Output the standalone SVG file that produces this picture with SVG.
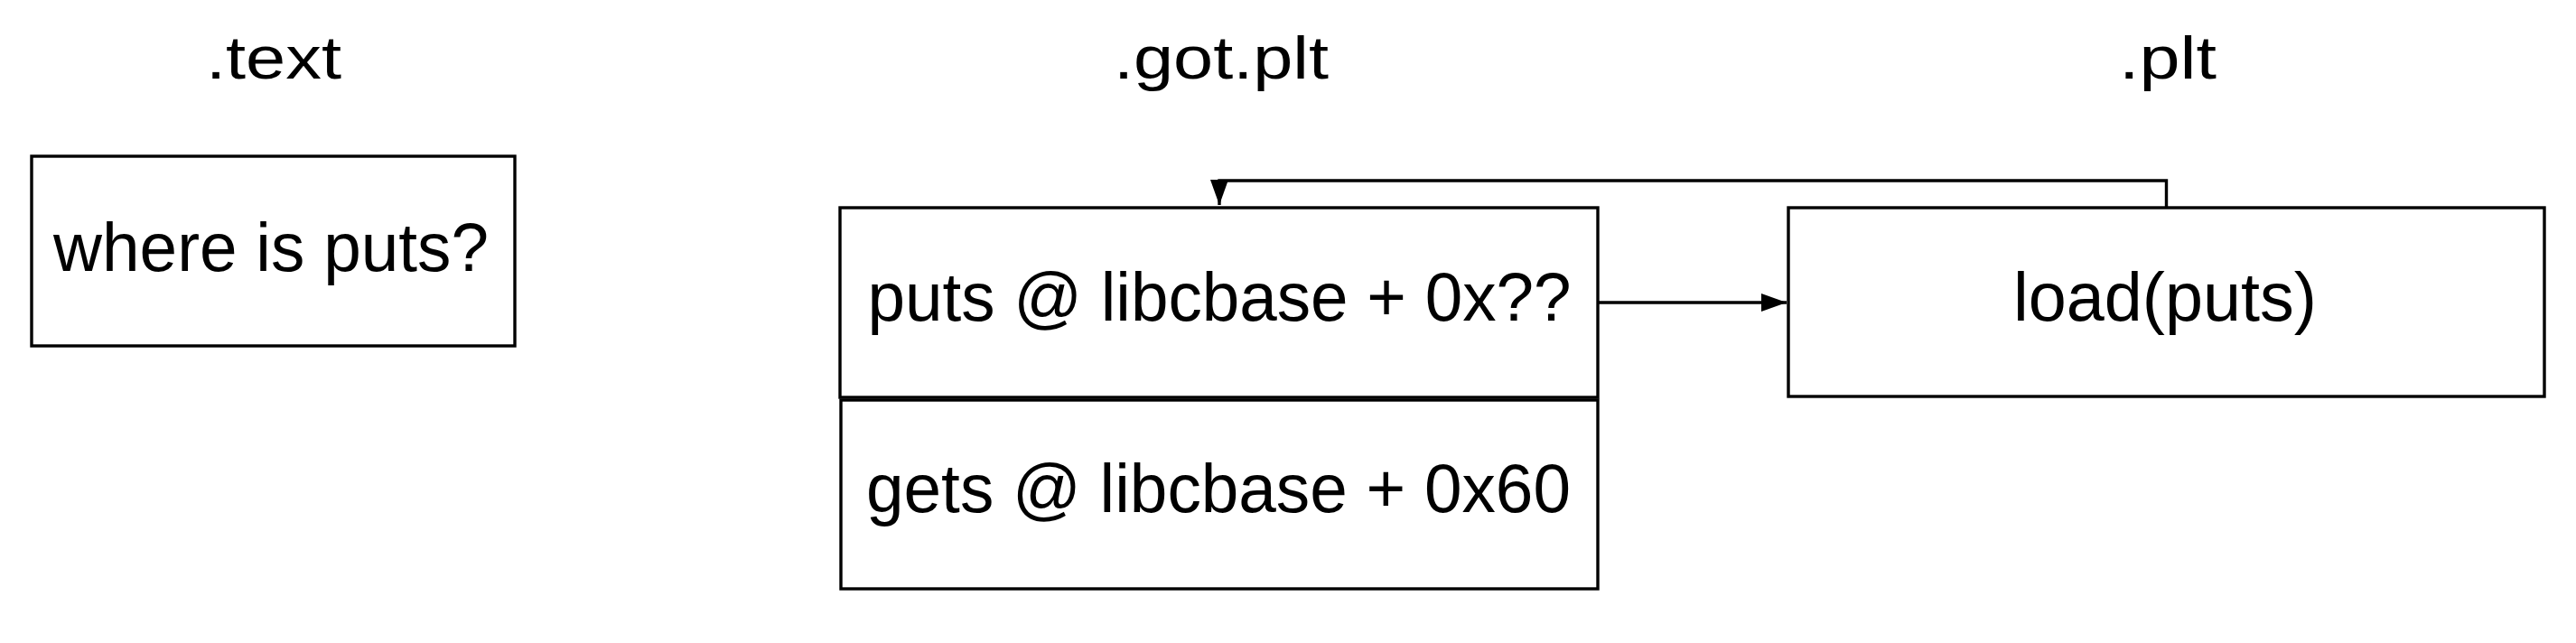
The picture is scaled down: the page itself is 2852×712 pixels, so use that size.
<svg xmlns="http://www.w3.org/2000/svg" width="2852" height="712" viewBox="0 0 2852 712">
<style>
.box{fill:#fff;stroke:#000;stroke-width:3.4}
.lbl{font-family:"Liberation Sans",Arial,sans-serif;font-size:76px;fill:#000;text-anchor:middle}
.hdr{font-family:"Liberation Sans",Arial,sans-serif;font-size:66px;fill:#000;text-anchor:middle}
.conn{fill:none;stroke:#000;stroke-width:3.4}
</style>
<defs>
<marker id="ah" viewBox="0 0 28 20" refX="28" refY="10" markerWidth="28" markerHeight="20" markerUnits="userSpaceOnUse" orient="auto">
<path d="M0,0 L28,10 L0,20 Z" fill="#000"/>
</marker>
</defs>
<rect width="2852" height="712" fill="#fff"/>
<g id="headers">
<text class="hdr" x="303" y="87" textLength="150" lengthAdjust="spacingAndGlyphs">.text</text>
<text class="hdr" x="1352" y="87" textLength="238" lengthAdjust="spacingAndGlyphs">.got.plt</text>
<text class="hdr" x="2400" y="87" textLength="108" lengthAdjust="spacingAndGlyphs">.plt</text>
</g>
<g id="where">
<rect class="box" x="35" y="173" width="535" height="210"/>
<text class="lbl" x="300" y="300" textLength="482" lengthAdjust="spacingAndGlyphs">where is puts?</text>
</g>
<g id="puts">
<rect class="box" x="930" y="230" width="839" height="210"/>
<text class="lbl" x="1350" y="355" textLength="779" lengthAdjust="spacingAndGlyphs">puts @ libcbase + 0x??</text>
</g>
<g id="gets">
<rect class="box" x="931" y="443" width="838" height="209"/>
<text class="lbl" x="1349" y="567" textLength="780" lengthAdjust="spacingAndGlyphs">gets @ libcbase + 0x60</text>
</g>
<g id="load">
<rect class="box" x="1980" y="230" width="837" height="209"/>
<text class="lbl" x="2397" y="355" textLength="336" lengthAdjust="spacingAndGlyphs">load(puts)</text>
</g>
<g id="connectors">
<line class="conn" x1="1769" y1="335" x2="1978" y2="335" marker-end="url(#ah)"/>
<polyline class="conn" points="2398.5,230 2398.5,200 1350,200 1350,227" marker-end="url(#ah)"/>
</g>
</svg>
